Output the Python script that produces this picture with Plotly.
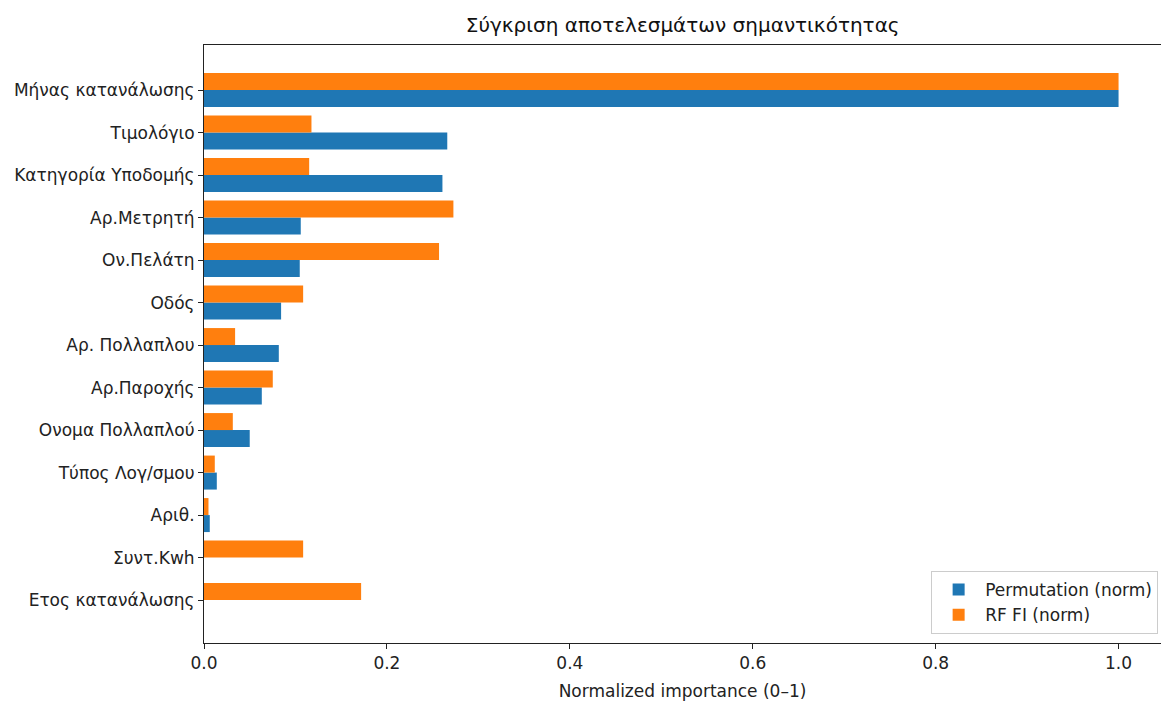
import plotly.graph_objects as go

features = [
    "Μήνας κατανάλωσης", "Τιμολόγιο", "Κατηγορία Υποδομής", "Αρ.Μετρητή",
    "Ον.Πελάτη", "Οδός", "Αρ. Πολλαπλου", "Αρ.Παροχής", "Ονομα Πολλαπλού",
    "Τύπος Λογ/σμου", "Αριθ.", "Συντ.Kwh", "Ετος κατανάλωσης",
]
perm_norm = [1.0, 0.266, 0.2607, 0.1058, 0.1047, 0.0843, 0.0818, 0.0632,
             0.050, 0.014, 0.0063, 0.0, 0.0]
rf_norm = [1.0, 0.1175, 0.115, 0.2727, 0.257, 0.1084, 0.034, 0.0752,
           0.0315, 0.0118, 0.0049, 0.1084, 0.1718]

n = len(features)
pos = [n - 1 - i for i in range(n)]  # first feature at the top
bar_h = 0.4

font = "DejaVu Sans"
fig = go.Figure()
fig.add_trace(go.Bar(
    x=perm_norm, y=[p - bar_h / 2 for p in pos], orientation="h", width=bar_h,
    marker=dict(color="#1f77b4", line=dict(width=0)),
    name="Permutation (norm)",
))
fig.add_trace(go.Bar(
    x=rf_norm, y=[p + bar_h / 2 for p in pos], orientation="h", width=bar_h,
    marker=dict(color="#ff7f0e", line=dict(width=0)),
    name="RF FI (norm)",
))

fig.update_layout(
    width=1161, height=702,
    margin=dict(l=204, r=0, t=45, b=59),
    paper_bgcolor="white", plot_bgcolor="white",
    barmode="overlay",
    font=dict(family=font, size=17, color="#222"),
    title=dict(text="Σύγκριση αποτελεσμάτων σημαντικότητας",
               x=0.588, xanchor="center", y=0.965, yanchor="middle",
               font=dict(family=font, size=20, color="#111")),
    xaxis=dict(
        range=[0, 1.0464], tickvals=[0, 0.2, 0.4, 0.6, 0.8, 1.0],
        ticktext=["0.0", "0.2", "0.4", "0.6", "0.8", "1.0"],
        ticks="outside", ticklen=5, tickcolor="#222",
        showline=True, linecolor="#222", linewidth=1, mirror=True,
        showgrid=False, zeroline=False,
        title=dict(text="Normalized importance (0–1)", standoff=12,
                   font=dict(family=font, size=17)),
    ),
    yaxis=dict(
        range=[-1.01, n - 1 + 1.06], tickvals=pos, ticktext=features,
        ticks="outside", ticklen=5, tickcolor="#222",
        showline=True, linecolor="#222", linewidth=1, mirror=True,
        showgrid=False, zeroline=False,
    ),
    legend=dict(
        x=0.997, xanchor="right", y=0.015, yanchor="bottom",
        bgcolor="rgba(255,255,255,0.8)", bordercolor="#cccccc", borderwidth=1,
        font=dict(family=font, size=17), itemwidth=43,
    ),
    showlegend=True,
)

fig.write_html("out.html")
